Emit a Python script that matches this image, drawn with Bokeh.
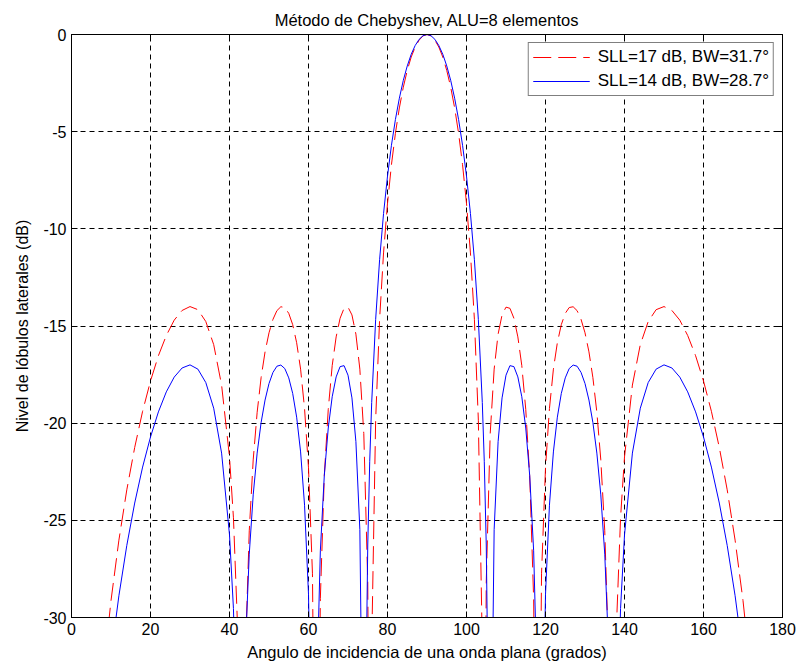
from bokeh.plotting import figure
from bokeh.models import Range1d, FixedTicker, LinearAxis, Legend, LegendItem
from bokeh.embed import file_html
from bokeh.resources import INLINE

# ---- data (angle in degrees, level in dB) ----
angles = [8, 10, 12, 14, 16, 18, 20, 22, 24, 26,
          28, 30, 32, 34, 36, 38, 40, 41, 42, 43,
          44, 45, 46, 47, 48, 49, 50, 51, 52, 53,
          54, 55, 56, 57, 58, 59, 60, 61, 62, 63,
          64, 65, 66, 67, 68, 69, 70, 71, 72, 73,
          74, 75, 75.5, 76, 77, 78, 79, 80, 81, 82,
          83, 84, 85, 86, 87, 88, 89, 90, 91, 92,
          93, 94, 95, 96, 97, 98, 99, 100, 101, 102,
          103, 104, 104.5, 105, 106, 107, 108, 109, 110, 111,
          112, 113, 114, 115, 116, 117, 118, 119, 120, 121,
          122, 123, 124, 125, 126, 127, 128, 129, 130, 131,
          132, 133, 134, 135, 136, 137, 138, 139, 140, 142,
          144, 146, 148, 150, 152, 154, 156, 158, 160, 162,
          164, 166, 168, 170, 172]

red_db = [-32.98, -29.13, -26.02, -23.43, -21.25, -19.39, -17.83, -16.53, -15.49, -14.70,
          -14.20, -14.00, -14.16, -14.77, -15.96, -18.04, -21.74, -24.87, -30.26, -49.8,
          -32.10, -25.54, -21.89, -19.44, -17.66, -16.33, -15.35, -14.66, -14.21, -14.01,
          -14.05, -14.35, -14.93, -15.86, -17.22, -19.25, -22.30, -27.72, -49.3, -29.03,
          -22.71, -19.29, -17.04, -15.56, -14.60, -14.09, -14.03, -14.43, -15.42, -17.22,
          -20.54, -28.18, -42.5, -31.49, -19.85, -14.66, -11.24, -8.69, -6.70, -5.09,
          -3.78, -2.71, -1.85, -1.16, -0.65, -0.29, -0.07, 0.00, -0.07, -0.29,
          -0.65, -1.16, -1.85, -2.71, -3.78, -5.09, -6.70, -8.69, -11.24, -14.66,
          -19.85, -31.49, -42.5, -28.18, -20.54, -17.22, -15.42, -14.43, -14.03, -14.09,
          -14.60, -15.56, -17.04, -19.29, -22.71, -29.03, -49.3, -27.72, -22.30, -19.25,
          -17.22, -15.86, -14.93, -14.35, -14.05, -14.01, -14.21, -14.66, -15.35, -16.33,
          -17.66, -19.44, -21.89, -25.54, -32.10, -49.8, -30.26, -24.87, -21.74, -18.04,
          -15.96, -14.77, -14.16, -14.00, -14.20, -14.70, -15.49, -16.53, -17.83, -19.39,
          -21.25, -23.43, -26.02, -29.13, -32.98]

blue_db = [-35.82, -31.98, -28.88, -26.29, -24.11, -22.26, -20.71, -19.42, -18.39, -17.63,
           -17.16, -17.00, -17.22, -17.91, -19.23, -21.54, -25.75, -29.54, -37.02, -44.7,
           -31.71, -26.74, -23.69, -21.54, -19.97, -18.81, -17.96, -17.39, -17.07, -17.01,
           -17.19, -17.67, -18.47, -19.69, -21.48, -24.22, -28.81, -40.67, -34.44, -26.57,
           -22.69, -20.25, -18.64, -17.62, -17.09, -17.04, -17.53, -18.70, -20.95, -25.48,
           -42.75, -26.27, -21.96, -18.94, -14.67, -11.59, -9.21, -7.29, -5.70, -4.38,
           -3.28, -2.36, -1.62, -1.02, -0.57, -0.25, -0.06, 0.00, -0.06, -0.25,
           -0.57, -1.02, -1.62, -2.36, -3.28, -4.38, -5.70, -7.29, -9.21, -11.59,
           -14.67, -18.94, -21.96, -26.27, -42.75, -25.48, -20.95, -18.70, -17.53, -17.04,
           -17.09, -17.62, -18.64, -20.25, -22.69, -26.57, -34.44, -40.67, -28.81, -24.22,
           -21.48, -19.69, -18.47, -17.67, -17.19, -17.01, -17.07, -17.39, -17.96, -18.81,
           -19.97, -21.54, -23.69, -26.74, -31.71, -44.7, -37.02, -29.54, -25.75, -21.54,
           -19.23, -17.91, -17.22, -17.00, -17.16, -17.63, -18.39, -19.42, -20.71, -22.26,
           -24.11, -26.29, -28.88, -31.98, -35.82]

assert len(angles) == len(red_db) == len(blue_db)

x_ticks = [0, 20, 40, 60, 80, 100, 120, 140, 160, 180]
y_ticks = [-30, -25, -20, -15, -10, -5, 0]
y_tick_labels = ["-30", "-25", "-20", "-15", "-10", "-5", "0"]

title_text = "Método de Chebyshev, ALU=8 elementos"
x_label = "Angulo de incidencia de una onda plana (grados)"
y_label = "Nivel de lóbulos laterales (dB)"
legend_labels = ["SLL=17 dB, BW=31.7°", "SLL=14 dB, BW=28.7°"]

FONT = "Liberation Sans"

p = figure(width=798, height=664, output_backend="svg", toolbar_location=None,
           x_range=Range1d(0, 180), y_range=Range1d(-30, 0), title=title_text,
           min_border_left=71, min_border_right=16, min_border_top=34, min_border_bottom=47)

p.background_fill_color = "white"
p.border_fill_color = "white"
p.outline_line_color = "black"
p.outline_line_width = 1

p.title.align = "center"
p.title.text_font = FONT
p.title.text_font_size = "16.5px"
p.title.text_font_style = "normal"
p.title.text_color = "black"
p.title.standoff = 11


def style_axis(ax, ticks, show_labels):
    ax.ticker = FixedTicker(ticks=ticks)
    ax.major_tick_in = 6
    ax.major_tick_out = 0
    ax.minor_tick_line_color = None
    ax.axis_line_color = "black"
    ax.major_tick_line_color = "black"
    ax.major_label_text_font = FONT
    ax.axis_label_text_font = FONT
    ax.axis_label_text_font_style = "normal"
    ax.axis_label_text_color = "black"
    if show_labels:
        ax.major_label_text_font_size = "16px"
        ax.major_label_text_color = "black"
    else:
        ax.major_label_text_font_size = "0px"
        ax.major_label_text_color = None
        ax.major_label_standoff = 0


xa = p.xaxis[0]
ya = p.yaxis[0]
style_axis(xa, x_ticks, True)
style_axis(ya, y_ticks, True)
ya.major_label_overrides = {t: s for t, s in zip(y_ticks, y_tick_labels)}
xa.axis_label = x_label
ya.axis_label = y_label
xa.axis_label_text_font_size = "16.5px"
ya.axis_label_text_font_size = "16px"
xa.major_label_standoff = 5
xa.axis_label_standoff = 5
ya.major_label_standoff = 5
ya.axis_label_standoff = 9

top_ax = LinearAxis()
right_ax = LinearAxis()
style_axis(top_ax, x_ticks, False)
style_axis(right_ax, y_ticks, False)
p.add_layout(top_ax, "above")
p.add_layout(right_ax, "right")

for g, ticks in ((p.xgrid[0], x_ticks), (p.ygrid[0], y_ticks)):
    g.ticker = FixedTicker(ticks=ticks)
    g.grid_line_color = "black"
    g.grid_line_alpha = 1.0
    g.grid_line_width = 1
    g.grid_line_dash = "5 4"

r_red = p.line(angles, red_db, line_color="#ff0000", line_width=1, line_dash="18 7")
r_blue = p.line(angles, blue_db, line_color="#0000ff", line_width=1)

legend = Legend(items=[LegendItem(label=legend_labels[0], renderers=[r_red]),
                       LegendItem(label=legend_labels[1], renderers=[r_blue])],
                location="top_right")
legend.label_text_font = FONT
legend.label_text_font_size = "17px"
legend.label_text_color = "black"
legend.glyph_width = 57
legend.glyph_height = 20
legend.label_height = 20
legend.label_standoff = 8
legend.spacing = 4
legend.padding = 4
legend.margin = 8
legend.border_line_color = "black"
legend.border_line_width = 1
legend.background_fill_color = "white"
legend.background_fill_alpha = 1.0
p.add_layout(legend)

open("out.html", "w").write(file_html(p, INLINE))
